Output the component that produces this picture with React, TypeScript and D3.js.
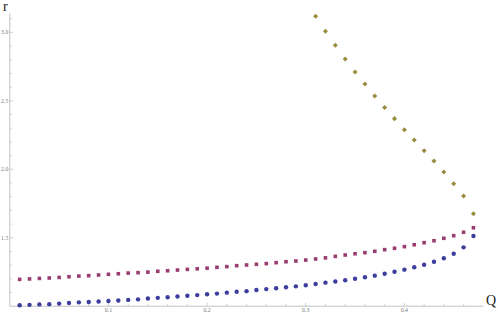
import { useEffect, useRef } from "react";
import * as d3 from "d3";

// Q sample points (0.01 .. 0.47)
const qValues = d3.range(1, 48).map((i) => i / 100);

// lower branch (blue circles)
const rInner = [
  1.007, 1.010, 1.013, 1.015, 1.019, 1.024, 1.028, 1.031, 1.034, 1.038,
  1.042, 1.046, 1.050, 1.056, 1.061, 1.065, 1.071, 1.076, 1.081, 1.087,
  1.092, 1.099, 1.105, 1.110, 1.118, 1.125, 1.131, 1.138, 1.145, 1.153,
  1.162, 1.172, 1.180, 1.189, 1.200, 1.211, 1.223, 1.237, 1.252, 1.267,
  1.284, 1.303, 1.325, 1.350, 1.383, 1.430, 1.513,
];

// middle branch (purple squares)
const rMiddle = [
  1.196, 1.199, 1.203, 1.206, 1.210, 1.215, 1.220, 1.223, 1.228, 1.233,
  1.237, 1.242, 1.245, 1.249, 1.255, 1.259, 1.264, 1.269, 1.273, 1.278,
  1.284, 1.289, 1.296, 1.301, 1.306, 1.311, 1.318, 1.325, 1.330, 1.337,
  1.345, 1.353, 1.364, 1.374, 1.383, 1.391, 1.401, 1.413, 1.423, 1.435,
  1.449, 1.464, 1.478, 1.496, 1.515, 1.540, 1.573,
];

// outer branch (gold diamonds), only for Q >= 0.31
const qOuter = d3.range(31, 48).map((i) => i / 100);
const rOuter = [
  3.118, 3.009, 2.906, 2.806, 2.711, 2.623, 2.535, 2.451, 2.370, 2.289,
  2.214, 2.136, 2.061, 1.980, 1.895, 1.805, 1.676,
];

const xTicks = [0.1, 0.2, 0.3, 0.4];
const yTicks = [1.5, 2.0, 2.5, 3.0];

const W = 498;
const H = 313;

export default function App() {
  const ref = useRef<SVGSVGElement>(null);

  useEffect(() => {
    const svg = d3.select(ref.current);
    svg.selectAll("*").remove();

    const x = d3.scaleLinear().domain([0, 0.48]).range([9.8, 483.3]);
    const y = d3.scaleLinear().domain([1, 3.14]).range([306.2, 13.2]);

    const axisColor = "#b4b4b4";
    const labelColor = "#777";

    // minor / major ticks
    const g = svg.append("g");
    const xMinor = d3.range(2, 48, 2).map((i) => i / 100);
    g.selectAll(".xt")
      .data(xMinor)
      .join("line")
      .attr("x1", (d) => x(d))
      .attr("x2", (d) => x(d))
      .attr("y1", y(1))
      .attr("y2", (d) => y(1) - (xTicks.some((t) => Math.abs(t - d) < 1e-9) ? 3.5 : 2))
      .attr("stroke", axisColor)
      .attr("stroke-width", 0.6);

    const yMinor = d3.range(11, 32).map((i) => i / 10);
    g.selectAll(".yt")
      .data(yMinor)
      .join("line")
      .attr("y1", (d) => y(d))
      .attr("y2", (d) => y(d))
      .attr("x1", x(0))
      .attr("x2", (d) => x(0) + (yTicks.some((t) => Math.abs(t - d) < 1e-9) ? 3.5 : 2))
      .attr("stroke", axisColor)
      .attr("stroke-width", 0.6);

    // axis lines
    g.append("line")
      .attr("x1", x(0)).attr("x2", x(0.48))
      .attr("y1", y(1)).attr("y2", y(1))
      .attr("stroke", axisColor).attr("stroke-width", 0.8);
    g.append("line")
      .attr("x1", x(0)).attr("x2", x(0))
      .attr("y1", y(1)).attr("y2", y(3.14))
      .attr("stroke", axisColor).attr("stroke-width", 0.8);

    // tick labels
    g.selectAll(".xl")
      .data(xTicks)
      .join("text")
      .attr("x", (d) => x(d))
      .attr("y", 311.5)
      .attr("text-anchor", "middle")
      .attr("font-family", "Liberation Serif, serif")
      .attr("font-size", 5.8)
      .attr("fill", labelColor)
      .text((d) => d3.format(".1f")(d));

    g.selectAll(".yl")
      .data(yTicks)
      .join("text")
      .attr("x", x(0) - 1.5)
      .attr("y", (d) => y(d) + 1.8)
      .attr("text-anchor", "end")
      .attr("font-family", "Liberation Serif, serif")
      .attr("font-size", 5.8)
      .attr("fill", labelColor)
      .text((d) => d3.format(".1f")(d));

    // axis names
    svg.append("text")
      .attr("x", 3).attr("y", 11)
      .attr("font-family", "Liberation Serif, serif")
      .attr("font-size", 14)
      .attr("fill", "#222")
      .text("r");
    svg.append("text")
      .attr("x", 486).attr("y", 305)
      .attr("font-family", "Liberation Serif, serif")
      .attr("font-size", 14)
      .attr("fill", "#222")
      .text("Q");

    // series
    const inner = qValues.map((q, i) => ({ q, r: rInner[i] }));
    const middle = qValues.map((q, i) => ({ q, r: rMiddle[i] }));
    const outer = qOuter.map((q, i) => ({ q, r: rOuter[i] }));

    svg.append("g")
      .selectAll("circle")
      .data(inner)
      .join("circle")
      .attr("cx", (d) => x(d.q))
      .attr("cy", (d) => y(d.r))
      .attr("r", 2.2)
      .attr("fill", "#3d3d9e");

    svg.append("g")
      .selectAll("rect")
      .data(middle)
      .join("rect")
      .attr("x", (d) => x(d.q) - 1.8)
      .attr("y", (d) => y(d.r) - 1.8)
      .attr("width", 3.6)
      .attr("height", 3.6)
      .attr("fill", "#993d70");

    const diamond = d3.symbol().type(d3.symbolDiamond2).size(16);
    svg.append("g")
      .selectAll("path")
      .data(outer)
      .join("path")
      .attr("transform", (d) => `translate(${x(d.q)},${y(d.r)})`)
      .attr("d", diamond)
      .attr("fill", "#998c3d");
  }, []);

  return (
    <svg
      ref={ref}
      width={W}
      height={H}
      style={{ position: "absolute", left: 0, top: 0, background: "#fff" }}
    />
  );
}
